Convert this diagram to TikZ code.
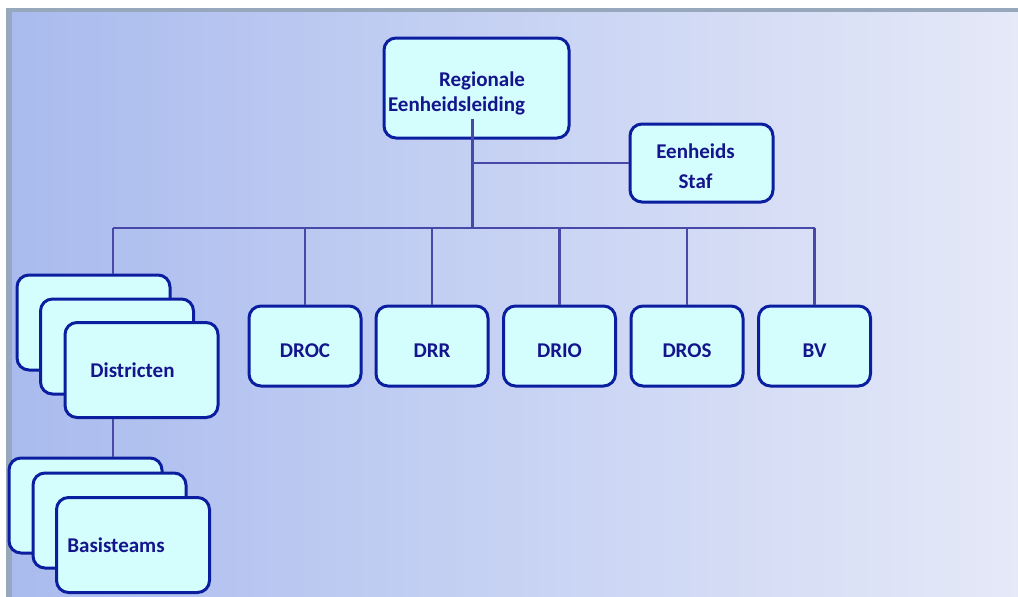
\documentclass[tikz,border=0pt]{standalone}
\usepackage{fontspec}
\setmainfont{Carlito}
\usepackage{tikz}

\definecolor{boxfill}{RGB}{212,254,254}
\definecolor{boxline}{RGB}{12,30,160}
\definecolor{txtblue}{RGB}{20,20,140}
\definecolor{lnblue}{RGB}{72,72,168}
\definecolor{bgleft}{RGB}{169,187,238}
\definecolor{bgright}{RGB}{229,233,248}
\definecolor{frame}{RGB}{152,168,188}

\begin{document}
\begin{tikzpicture}[
  x=1pt, y=-1pt,
  font=\bfseries\fontsize{21}{25}\selectfont,
  org/.style={draw=boxline, line width=3pt, rounded corners=12pt,
              fill=boxfill, text=txtblue, align=center, inner sep=2pt},
  unit/.style={org, minimum width=112pt, minimum height=80pt,
               text height=23pt, text depth=0pt},
  stk/.style={org, minimum width=153pt, minimum height=95pt},
  ln/.style={draw=lnblue, line width=2.8pt}
]
\useasboundingbox (0,0) rectangle (1018,597);
% background
\shade[left color=bgleft, right color=bgright] (8,10) rectangle (1018,597);
\fill[frame] (8,8) rectangle (1018,12);
\fill[frame] (6,8) rectangle (12,597);
% top
\node[org, minimum width=185pt, minimum height=100pt, align=right] (reg) at (476.5,88)
  {\rule{0pt}{25pt}Regionale\hspace*{40pt}\\Eenheidsleiding\hspace*{40pt}};
\node[org, minimum width=143pt, minimum height=78pt] (staf) at (701.5,163)
  {\rule{0pt}{22pt}Eenheids\hspace*{12pt}\\[5pt]Staf\hspace*{12pt}};
% row of units
\node[unit] (droc) at (305,346)   {DROC};
\node[unit] (drr)  at (432,346)   {DRR};
\node[unit] (drio) at (559.5,346) {DRIO};
\node[unit] (dros) at (687,346)   {DROS};
\node[unit] (bv)   at (814.5,346) {BV};
% districten stack
\node[stk] (dis1) at (93.5,322.5) {};
\node[stk] (dis2) at (117,346.5)  {};
\node[stk] (dis3) at (141.5,370)  {Districten\hspace*{18pt}};
% basisteams stack
\node[stk] (bas1) at (85.5,505.5) {};
\node[stk] (bas2) at (109.5,520.5) {};
\node[stk] (bas3) at (133,545)    {Basisteams\hspace*{34pt}};
% lines
\coordinate (bus) at (113,228);
\draw[ln] ([xshift=-4pt,yshift=21pt]reg.south) -- ([xshift=-4pt]reg.south |- bus);
\draw[ln] ([xshift=-4pt]reg.south |- staf.west) -- (staf.west);
\draw[ln] (bus) -- (bus -| bv.north);
\draw[ln] (bus) -- (bus |- dis1.north);
\foreach \n in {droc,drr,drio,dros,bv}
  \draw[ln] (bus -| \n.north) -- (\n.north);
\draw[ln] (bus |- dis3.south) -- (bus |- bas1.north);
\end{tikzpicture}
\end{document}
